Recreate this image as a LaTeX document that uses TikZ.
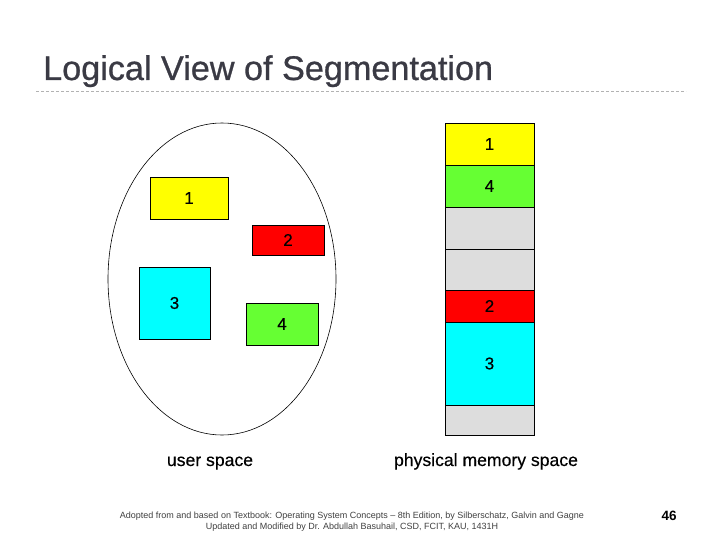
\documentclass[tikz,border=0pt]{standalone}
\usepackage{fontspec}
\setmainfont{Liberation Sans}
\newfontfamily\titlefont[FakeBold=0.8]{Liberation Sans}
\newfontfamily\numfont[FakeBold=0.4]{Liberation Sans}
\usetikzlibrary{shapes.geometric}
\begin{document}
\begin{tikzpicture}[x=1pt,y=-1pt,
  seg/.style={draw=black, line width=0.8pt, inner sep=0pt, font=\numfont\fontsize{17}{19}\selectfont},
  lbl/.style={font=\numfont\fontsize{17.6}{20}\selectfont, inner sep=0pt, anchor=base},
  foot/.style={font=\fontsize{9}{11}\selectfont, text=black!75, align=center, inner sep=0pt}]
\definecolor{yel}{HTML}{FFFF00}
\definecolor{grn}{HTML}{66FF33}
\definecolor{rd}{HTML}{FF0000}
\definecolor{cy}{HTML}{00FFFF}
\definecolor{gr}{HTML}{DDDDDD}
\definecolor{titlec}{HTML}{3A3A44}
\useasboundingbox (0,0) rectangle (720,540);
\fill[white] (0,0) rectangle (720,540);
% title
\node[anchor=base west, inner sep=0pt, text=titlec, font=\titlefont\fontsize{34.2}{38}\selectfont] (title) at (43,80) {Logical View of Segmentation};
\coordinate (dl) at (36,91);
\coordinate (dr) at (686,91);
\draw[black!30, dashed, dash pattern=on 3pt off 2pt, line width=0.8pt] (dl) -- (dr);
% user space
\node[draw=black, line width=0.6pt, ellipse, minimum width=228pt, minimum height=312pt, inner sep=0pt] (ell) at (222,279) {};
\node[seg, fill=yel, minimum width=78pt, minimum height=42pt] (u1) at (189,198) {1};
\node[seg, fill=rd, minimum width=72pt, minimum height=30pt] (u2) at (288,240) {2};
\node[seg, fill=cy, minimum width=71pt, minimum height=72pt] (u3) at (174.5,303) {3};
\node[seg, fill=grn, minimum width=72pt, minimum height=42pt] (u4) at (282,324) {4};
% physical memory
\node[seg, fill=yel, minimum width=89pt, minimum height=42pt] (m1) at (489.5,144) {1};
\node[seg, fill=grn, minimum width=89pt, minimum height=42pt] (m4) at (489.5,186) {4};
\node[seg, fill=gr, minimum width=89pt, minimum height=42pt] (mf1) at (489.5,228) {};
\node[seg, fill=gr, minimum width=89pt, minimum height=41pt] (mf2) at (489.5,269.5) {};
\node[seg, fill=rd, minimum width=89pt, minimum height=32pt] (m2) at (489.5,306) {2};
\node[seg, fill=cy, minimum width=89pt, minimum height=83pt] (m3) at (489.5,363.5) {3};
\node[seg, fill=gr, minimum width=89pt, minimum height=30pt] (mf3) at (489.5,420) {};
% labels
\node[lbl] (us) at (210,466) {user space};
\node[lbl] (pm) at (486,466) {physical memory space};
% footer
\node[foot] (f) at (352,522) {Adopted from and based on Textbook: Operating System Concepts – 8th Edition, by Silberschatz, Galvin and Gagne\\Updated and Modified by Dr. Abdullah Basuhail, CSD, FCIT, KAU, 1431H};
\node[inner sep=0pt, font=\bfseries\fontsize{13.5}{15}\selectfont] (pg) at (669,516) {46};
\end{tikzpicture}
\end{document}
